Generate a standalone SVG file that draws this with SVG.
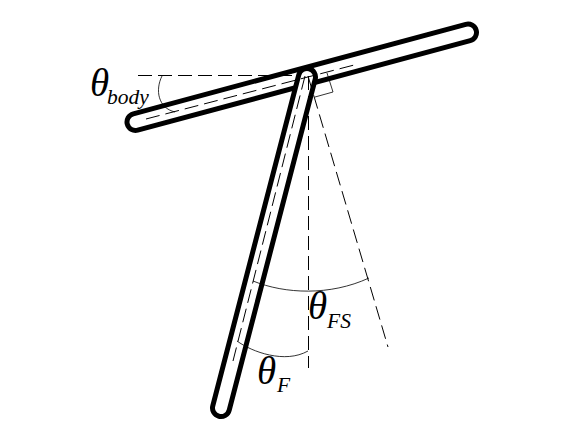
<svg xmlns="http://www.w3.org/2000/svg" width="582" height="427" viewBox="0 0 582 427">
<style>
.o{fill:none;stroke:#000;stroke-width:22;stroke-linecap:round}
.i{fill:none;stroke:#fff;stroke-width:12;stroke-linecap:round}
.d{fill:none;stroke:#000;stroke-width:1;stroke-dasharray:14 6}
.t{fill:none;stroke:#000;stroke-width:.8}
text{font-family:"Liberation Serif",serif;font-style:italic;fill:#000}
.g{font-size:39px;font-weight:normal}
.s{font-size:21.5px}
</style>
<rect width="582" height="427" fill="#fff"/>
<g id="body"><path class="o" d="M135.500 122L468 32.500"/><path class="i" d="M135.500 122L468 32.500"/></g>
<g id="leg"><path class="o" d="M307 77L221 408"/><path class="i" d="M307 77L221 408"/></g>
<g id="connectors">
<path class="d" d="M146 119L358 64"/>
<path class="d" d="M138 75.500H300"/>
<path class="d" d="M305 76L233 361"/>
<path class="d" d="M308.500 76V368"/>
<path class="d" d="M308 76L388 347"/>
<path class="t" d="M327 73L333 92L315 97"/>
<path class="t" d="M162 76C155 90 158 108 175 112"/>
<path class="t" d="M253 281C285 294 330 296 369 278"/>
<path class="t" d="M237 341C252 352 285 364 308 351"/>
</g>
<g id="label-body"><text class="g" x="90" y="96">θ</text><text class="s" x="107" y="104">body</text></g>
<g id="label-fs"><text class="g" x="308" y="319">θ</text><text class="s" x="327" y="328">FS</text></g>
<g id="label-f"><text class="g" x="257" y="384">θ</text><text class="s" x="277" y="392">F</text></g>
</svg>
